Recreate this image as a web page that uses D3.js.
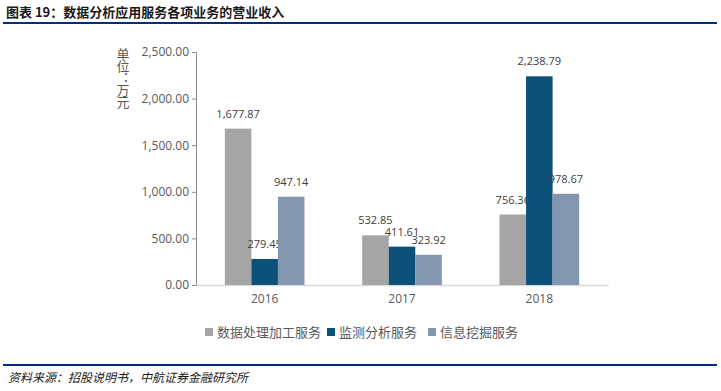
<!DOCTYPE html>
<html>
<head>
<meta charset="utf-8">
<script src="https://cdn.jsdelivr.net/npm/d3@7"></script>
<style>
  body { margin: 0; background: #fff; }
  svg { display: block; font-family: "Noto Sans CJK SC", "Open Sans", sans-serif; }
</style>
</head>
<body>
<div class="canva"></div>
<script>
// data
const years = ['2016', '2017', '2018'];
const seriesNames = ['数据处理加工服务', '监测分析服务', '信息挖掘服务'];
const dataProcessing = [1677.87, 532.85, 756.36];
const monitoring = [279.45, 411.61, 2238.79];
const infoMining = [947.14, 323.92, 978.67];
const yTicks = [0, 500, 1000, 1500, 2000, 2500];
const colors = ['#a5a5a5', '#0d5078', '#8497b0'];

const allSeries = [dataProcessing, monitoring, infoMining];

const svg = d3.select('.canva').append('svg')
  .attr('width', 721)
  .attr('height', 391);

// title + rule
svg.append('text')
  .attr('x', 6).attr('y', 17)
  .attr('font-size', 13).attr('font-weight', 'bold')
  .attr('fill', '#1a1a1a')
  .text('图表 19：数据分析应用服务各项业务的营业收入');
svg.append('line')
  .attr('x1', 3).attr('x2', 717).attr('y1', 23).attr('y2', 23)
  .attr('stroke', '#002e7a').attr('stroke-width', 2.2);

// scales
const y = d3.scaleLinear().domain([0, 2500]).range([285, 52]);
const x = d3.scaleBand().domain(years).range([196, 608]).paddingInner(0.42).paddingOuter(0.21);
const xs = d3.scaleBand().domain(d3.range(3)).range([0, x.bandwidth()]);

// axes
const yAxis = svg.append('g')
  .attr('transform', 'translate(196,0)')
  .call(d3.axisLeft(y).tickValues(yTicks).tickSize(4).tickPadding(3)
    .tickFormat(d3.format(',.2f')));
yAxis.select('.domain').attr('stroke', '#8c8c8c');
yAxis.selectAll('.tick line').attr('stroke', '#8c8c8c');
yAxis.selectAll('text').attr('font-size', 12).attr('fill', '#595959')
  .attr('font-family', '"Open Sans", sans-serif');

const xAxis = svg.append('g')
  .attr('transform', 'translate(0,285)')
  .call(d3.axisBottom(x).tickSize(0).tickPadding(9));
xAxis.select('.domain').attr('stroke', '#d9d9d9').attr('stroke-width', 1.5);
xAxis.selectAll('text').attr('font-size', 12).attr('fill', '#595959')
  .attr('font-family', '"Open Sans", sans-serif');

// unit label, written vertically
svg.append('text')
  .attr('x', 123).attr('y', 48)
  .attr('font-size', 13)
  .attr('fill', '#595959')
  .style('writing-mode', 'vertical-rl')
  .style('text-orientation', 'upright')
  .style('letter-spacing', '-1px')
  .text('单位：万元');

// bars
allSeries.forEach((vals, s) => {
  const g = svg.append('g');
  g.selectAll('rect')
    .data(vals).enter().append('rect')
    .attr('x', (d, i) => x(years[i]) + xs(s))
    .attr('width', xs.bandwidth())
    .attr('y', d => y(d))
    .attr('height', d => 285 - y(d))
    .attr('fill', colors[s]);
  g.selectAll('text')
    .data(vals).enter().append('text')
    .attr('x', (d, i) => x(years[i]) + xs(s) + xs.bandwidth() / 2)
    .attr('y', d => y(d) - 11)
    .attr('text-anchor', 'middle')
    .attr('font-size', 11)
    .attr('fill', '#404040')
    .attr('font-family', '"Open Sans", sans-serif')
    .text(d => d3.format(',.2f')(d));
});

// legend
const legendX = [205, 327, 428];
const legend = svg.append('g').selectAll('g')
  .data(seriesNames).enter().append('g')
  .attr('transform', (d, i) => `translate(${legendX[i]},328)`);
legend.append('rect')
  .attr('width', 8).attr('height', 8)
  .attr('fill', (d, i) => colors[i]);
legend.append('text')
  .attr('x', 12).attr('y', 8.5)
  .attr('font-size', 13).attr('fill', '#595959')
  .text(d => d);

// footer
svg.append('line')
  .attr('x1', 3).attr('x2', 717).attr('y1', 365).attr('y2', 365)
  .attr('stroke', '#002e7a').attr('stroke-width', 2.2);
svg.append('text')
  .attr('x', 8).attr('y', 382)
  .attr('font-size', 12).attr('font-style', 'italic')
  .attr('fill', '#1a1a1a')
  .text('资料来源：招股说明书，中航证券金融研究所');
</script>
</body>
</html>
